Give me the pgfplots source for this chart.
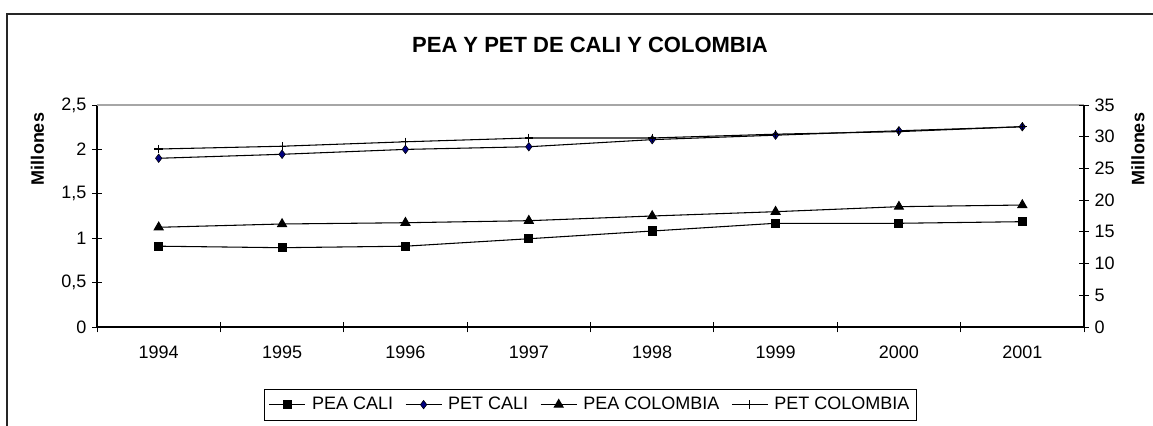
\documentclass[border=0pt]{standalone}
\usepackage{pgfplots}
\pgfplotsset{compat=1.18}
\usepackage{fontspec}
\setmainfont{Liberation Sans}
\definecolor{navyblue}{HTML}{000080}
\begin{document}
\begin{tikzpicture}
\useasboundingbox (0,0) rectangle (864.75pt,318.75pt);
\draw[line width=0.9pt, black!85] (5.25pt,-2pt) -- (5.25pt,308.25pt) -- (870pt,308.25pt);
\node[font=\bfseries\fontsize{16.5}{20}\selectfont] at (442.5pt,285pt) {PEA Y PET DE CALI Y COLOMBIA};
\node[rotate=90,font=\bfseries\fontsize{13.5}{15}\selectfont] at (28.1pt,207pt) {Millones};
\node[rotate=90,font=\bfseries\fontsize{13.5}{15}\selectfont] at (853.5pt,207pt) {Millones};
\pgfplotsset{common/.style={
  scale only axis, width=740.25pt, height=166.5pt,
  at={(72.75pt,73.5pt)}, anchor=south west,
  xmin=-0.5, xmax=7.5,
  xtick={0,...,7},
  xticklabels={1994,1995,1996,1997,1998,1999,2000,2001},
  minor xtick={-0.5,0.5,...,7.5},
  major x tick style={draw=none},
  tick align=center,
  major tick length=7pt, minor tick length=8pt,
  tick style={black, line width=0.6pt},
  axis line style={black, line width=0.8pt},
  ticklabel style={font=\fontsize{13.5}{16}\selectfont},
  /pgf/number format/assume math mode=true,
  /pgf/number format/use comma,
  clip=false,
}}
\begin{axis}[common,
  ymin=0, ymax=2.5, ytick={0,0.5,1,1.5,2,2.5},
  axis y line*=left, axis x line*=bottom,
  xticklabel style={yshift=-7pt},
  yticklabel style={xshift=-1pt},
]
\addplot[black, line width=0.8pt, mark=square*, mark size=3pt, mark options={solid, fill=black}]
  coordinates {(0,0.91) (1,0.893) (2,0.91) (3,0.994) (4,1.081) (5,1.168) (6,1.168) (7,1.186)};
\addplot[black, line width=0.8pt, mark=diamond*, mark size=3.2pt, mark options={solid, fill=navyblue, draw=black, line width=0.4pt}]
  coordinates {(0,1.90) (1,1.945) (2,2.0) (3,2.03) (4,2.11) (5,2.16) (6,2.21) (7,2.255)};
\draw[gray!70, line width=0.8pt] (rel axis cs:0,1) -- (rel axis cs:1,1);
\end{axis}
\begin{axis}[common,
  ymin=0, ymax=35, ytick={0,5,...,35},
  axis y line*=right, axis x line=none,
  yticklabel style={xshift=1pt},
  legend columns=4,
  legend style={at={(0.5,-0.279)}, anchor=north, draw=black, line width=0.6pt,
    font=\fontsize{13.5}{16}\selectfont, inner ysep=4pt, inner xsep=3pt,
    /tikz/every odd column/.append style={column sep=2.5pt},
    /tikz/every even column/.append style={column sep=7pt}},
  legend image code/.code={
    \draw[#1, mark=none] (0cm,0cm) -- (0.95cm,0cm);
    \draw[#1, only marks] plot coordinates {(0.475cm,0cm)};
  },
]
\addlegendimage{black, line width=0.8pt, mark=square*, mark size=3pt, mark options={solid, fill=black}}
\addlegendentry{PEA CALI}
\addlegendimage{black, line width=0.8pt, mark=diamond*, mark size=3.2pt, mark options={solid, fill=navyblue, draw=black, line width=0.4pt}}
\addlegendentry{PET CALI}
\addplot[black, line width=0.8pt, mark=triangle*, mark size=3.8pt, mark options={solid, fill=black}]
  coordinates {(0,15.72) (1,16.24) (2,16.44) (3,16.76) (4,17.5) (5,18.18) (6,18.97) (7,19.23)};
\addlegendentry{PEA COLOMBIA}
\addplot[black, line width=0.8pt, mark=+, mark size=3.2pt, mark options={solid, line width=0.8pt}]
  coordinates {(0,28.06) (1,28.5) (2,29.2) (3,29.8) (4,29.8) (5,30.4) (6,30.8) (7,31.58)};
\addlegendentry{PET COLOMBIA}
\end{axis}
\end{tikzpicture}
\end{document}
